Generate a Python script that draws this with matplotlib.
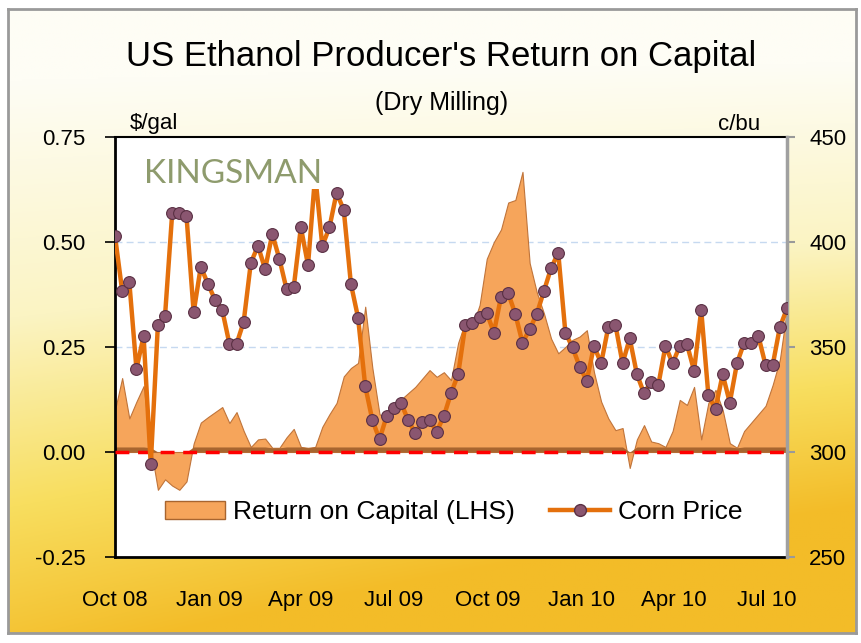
import numpy as np
import pandas as pd
import matplotlib
matplotlib.use("Agg")
import matplotlib.pyplot as plt
import matplotlib.dates as mdates
from matplotlib.patches import Patch
from matplotlib.lines import Line2D
from matplotlib.ticker import FormatStrFormatter

# weekly observations, Oct 2008 - Jul 2010
weeks = pd.date_range("2008-10-01", periods=95, freq="7D")

# corn price, c/bu (right axis)
corn_price = [
    402.9, 376.8, 381.0, 339.5, 355.2, 294.3, 360.6, 364.9, 413.7, 413.7,
    412.4, 366.5, 388.2, 380.0, 372.4, 367.6, 351.6, 351.4, 362.0, 390.1,
    398.1, 387.1, 403.8, 391.9, 377.5, 378.4, 407.0, 389.0, 432.0, 398.1,
    407.0, 423.5, 415.2, 380.0, 364.0, 331.4, 315.2, 306.0, 317.1, 320.8,
    323.5, 315.2, 308.9, 314.4, 315.2, 309.7, 317.1, 327.9, 337.0, 360.5,
    361.3, 364.1, 366.3, 356.8, 374.0, 375.6, 365.7, 352.0, 358.4, 365.7,
    376.7, 387.5, 394.9, 356.8, 349.8, 340.6, 334.0, 350.5, 342.2, 359.4,
    360.5, 342.2, 354.1, 337.1, 327.9, 333.5, 331.9, 350.5, 342.2, 350.5,
    351.4, 338.7, 367.6, 327.1, 320.5, 337.0, 323.5, 342.2, 352.0, 352.0,
    355.2, 341.4, 341.4, 359.4, 368.4,
]

# return on capital, $/gal (left axis)
return_on_capital = [
    0.100, 0.176, 0.080, 0.120, 0.157, 0.010, -0.090, -0.065, -0.080, -0.090,
    -0.070, 0.020, 0.070, 0.083, 0.095, 0.107, 0.069, 0.095, 0.050, 0.012,
    0.030, 0.032, 0.010, 0.010, 0.035, 0.055, 0.012, 0.010, 0.012, 0.060,
    0.090, 0.117, 0.180, 0.200, 0.212, 0.346, 0.200, 0.090, 0.080, 0.100,
    0.125, 0.140, 0.155, 0.175, 0.195, 0.179, 0.190, 0.171, 0.260, 0.310,
    0.300, 0.350, 0.460, 0.500, 0.530, 0.594, 0.600, 0.667, 0.450, 0.380,
    0.330, 0.270, 0.235, 0.250, 0.267, 0.275, 0.290, 0.190, 0.120, 0.080,
    0.052, 0.057, -0.038, 0.030, 0.064, 0.025, 0.021, 0.012, 0.050, 0.124,
    0.112, 0.155, 0.030, 0.117, 0.148, 0.100, 0.021, 0.010, 0.050, 0.070,
    0.090, 0.110, 0.160, 0.220, 0.340,
]

lhs_ticks = [-0.25, 0.0, 0.25, 0.5, 0.75]
rhs_ticks = [250, 300, 350, 400, 450]

FONT = ["Liberation Sans", "DejaVu Sans"]
AREA = "#f6a55b"
LINE = "#e4700c"


def draw_background(fig):
    # sunflower-ish yellow backdrop inside a grey frame
    h, w = 300, 400
    yy, xx = np.mgrid[0:1:h * 1j, 0:1:w * 1j]
    t = np.clip(yy * 1.05 - 0.12 + 0.35 * xx * yy, 0, 1)
    stops = np.array([0.0, 0.4, 0.72, 1.0])
    cols = np.array([[254, 253, 245], [251, 244, 195], [248, 222, 95], [243, 188, 40]]) / 255
    img = np.stack([np.interp(t, stops, cols[:, k]) for k in range(3)], axis=-1)
    bg = fig.add_axes([8 / 862, 10 / 643, 848 / 862, 624 / 643], zorder=-5)
    bg.imshow(img, aspect="auto", extent=[0, 1, 0, 1])
    bg.set_xticks([])
    bg.set_yticks([])
    for s in bg.spines.values():
        s.set_color("#9a9a9a")
        s.set_linewidth(2)


def main():
    fig = plt.figure(figsize=(8.62, 6.43), dpi=100)
    fig.patch.set_facecolor("white")
    draw_background(fig)

    ax = fig.add_axes([115 / 862, 86 / 643, 672 / 862, 420 / 643])
    ax.set_facecolor("white")

    roc = np.array(return_on_capital)
    ax.fill_between(weeks, 0, roc, color=AREA, edgecolor="#c0743a", linewidth=0.8, zorder=2)
    ax.fill_between(weeks, 0, np.clip(roc, 0, 0.012), color="#a8652f", linewidth=0, zorder=2.5)
    ax.axhline(0, color="#ff0000", linewidth=2.5, dashes=(4, 2.5), zorder=3)

    ax.set_ylim(-0.25, 0.75)
    ax.set_yticks(lhs_ticks)
    ax.yaxis.set_major_formatter(FormatStrFormatter("%.2f"))
    for yv in [0.25, 0.5]:
        ax.axhline(yv, color="#c6d9f0", linewidth=1, dashes=(5, 3), zorder=1)
    ax.set_xlim(weeks[0], weeks[-1])
    ax.xaxis.set_major_locator(mdates.MonthLocator(bymonth=[1, 4, 7, 10]))
    ax.xaxis.set_major_formatter(mdates.DateFormatter("%b %y"))

    ax.tick_params(axis="x", length=0, pad=24, labelsize=16)
    ax.tick_params(axis="y", direction="out", length=7, width=1.2, pad=14, labelsize=16)
    for lab in ax.get_xticklabels() + ax.get_yticklabels():
        lab.set_family(FONT)

    ax.spines["left"].set_linewidth(2)
    ax.spines["bottom"].set_linewidth(2)
    ax.spines["top"].set_linewidth(1.5)
    ax.spines["right"].set_visible(False)

    ax2 = ax.twinx()
    ax2.plot(weeks, corn_price, color=LINE, linewidth=3.2, marker="o", markersize=8.5,
             markerfacecolor="#8a5670", markeredgecolor="#5a3044", markeredgewidth=0.8, zorder=4)
    ax2.set_ylim(250, 450)
    ax2.set_yticks(rhs_ticks)
    ax2.tick_params(axis="y", direction="out", length=6, width=1.5, color="#999999", pad=10, labelsize=16)
    for lab in ax2.get_yticklabels():
        lab.set_family(FONT)
    ax2.spines["right"].set_color("#a0a0a0")
    ax2.spines["right"].set_linewidth(2.5)
    for s in ["left", "top", "bottom"]:
        ax2.spines[s].set_visible(False)

    # watermark
    ax2.text(0.176, 0.912, "KINGSMAN", transform=ax2.transAxes, ha="center", va="center",
             fontsize=24, color="#8e9b6d", family=["Lato", "DejaVu Sans"], zorder=6,
             bbox=dict(facecolor="white", edgecolor="none", pad=0))

    handles = [
        Patch(facecolor=AREA, edgecolor="#a8652f", linewidth=1),
        Line2D([], [], color=LINE, linewidth=3.2, marker="o", markersize=8.5,
               markerfacecolor="#8a5670", markeredgecolor="#5a3044"),
    ]
    ax2.legend(handles, ["Return on Capital (LHS)", "Corn Price"], loc="center",
               bbox_to_anchor=(0.504, 0.107), ncol=2, frameon=False, handlelength=2.3,
               columnspacing=1.3, handletextpad=0.3, prop={"family": FONT, "size": 19})

    fig.text(0.512, 0.912, "US Ethanol Producer's Return on Capital", ha="center", va="center",
             fontsize=25, family=FONT)
    fig.text(0.512, 0.840, "(Dry Milling)", ha="center", va="center", fontsize=18, family=FONT)
    fig.text(130 / 862, 1 - 124 / 643, "$/gal", ha="left", va="center", fontsize=16, family=FONT)
    fig.text(760 / 862, 1 - 124 / 643, "c/bu", ha="right", va="center", fontsize=16, family=FONT)

    fig.savefig("out.png", dpi=100)


if __name__ == "__main__":
    main()
